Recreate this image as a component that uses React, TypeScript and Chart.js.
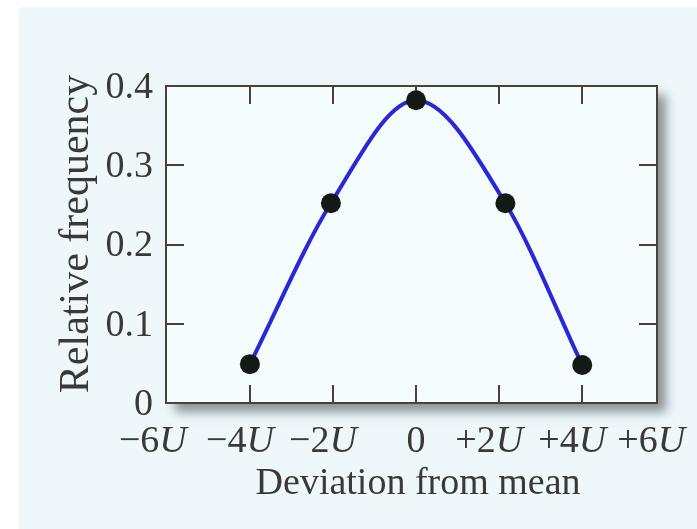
import { useEffect, useRef } from 'react';
import { Chart, registerables } from 'chart.js';

Chart.register(...registerables);

// Measured relative frequencies at each deviation from the mean (in units of U)
const deviations = [-4, -2.05, 0, 2.15, 4];
const frequencies = [0.049, 0.252, 0.382, 0.252, 0.048];

// Axis ticks
const xTickValues = [-6, -4, -2, 0, 2, 4, 6];
const xTickPrefixes = ['\u22126', '\u22124', '\u22122', '0', '+2', '+4', '+6'];
const xTickUnit = 'U';
const yTickValues = [0, 0.1, 0.2, 0.3, 0.4];
const yTickLabels = ['0', '0.1', '0.2', '0.3', '0.4'];
const xInnerTicks = [-4, -2, 0, 2, 4];
const yInnerTicks = [0.1, 0.2, 0.3];

const xTitle = 'Deviation from mean';
const yTitle = 'Relative frequency';

const SERIF = '"Liberation Serif", "Times New Roman", Times, serif';
const TEXT_COLOR = '#3b3835';
const FRAME_COLOR = '#4f4034';

const framePlugin = {
  id: 'frameAndLabels',
  beforeDraw(chart: any) {
    const { ctx, chartArea: a, width, height } = chart;
    ctx.save();
    ctx.fillStyle = '#ffffff';
    ctx.fillRect(0, 0, width, height);
    ctx.fillStyle = '#eef8fb';
    ctx.fillRect(19, 7, width - 19, height - 7);
    // plot panel with a soft drop shadow
    ctx.shadowColor = 'rgba(70,78,82,0.6)';
    ctx.shadowBlur = 10;
    ctx.shadowOffsetX = 9;
    ctx.shadowOffsetY = 9;
    ctx.fillStyle = '#f4fcfe';
    ctx.fillRect(a.left, a.top, a.right - a.left, a.bottom - a.top);
    ctx.restore();
  },
  beforeDatasetsDraw(chart: any) {
    const { ctx, chartArea: a, scales } = chart;
    const xs = scales.x;
    const ys = scales.y;
    const tickLen = 18;
    ctx.save();
    ctx.strokeStyle = FRAME_COLOR;
    ctx.lineWidth = 2;
    ctx.strokeRect(a.left, a.top, a.right - a.left, a.bottom - a.top);
    ctx.beginPath();
    xInnerTicks.forEach((v) => {
      const px = Math.round(xs.getPixelForValue(v));
      ctx.moveTo(px, a.bottom);
      ctx.lineTo(px, a.bottom - tickLen);
      ctx.moveTo(px, a.top);
      ctx.lineTo(px, a.top + tickLen);
    });
    yInnerTicks.forEach((v) => {
      const py = Math.round(ys.getPixelForValue(v));
      ctx.moveTo(a.left, py);
      ctx.lineTo(a.left + tickLen, py);
      ctx.moveTo(a.right, py);
      ctx.lineTo(a.right - tickLen, py);
    });
    ctx.stroke();
    ctx.restore();
  },
  afterDraw(chart: any) {
    const { ctx, chartArea: a, scales } = chart;
    const xs = scales.x;
    const ys = scales.y;
    const regular = `38px ${SERIF}`;
    const italic = `italic 38px ${SERIF}`;
    ctx.save();
    ctx.fillStyle = TEXT_COLOR;

    // y tick labels
    ctx.font = regular;
    ctx.textAlign = 'right';
    ctx.textBaseline = 'middle';
    yTickValues.forEach((v, i) => {
      ctx.fillText(yTickLabels[i], a.left - 13, ys.getPixelForValue(v) + 2);
    });

    // x tick labels: number upright, unit in italics
    ctx.textAlign = 'left';
    ctx.textBaseline = 'alphabetic';
    xTickValues.forEach((v, i) => {
      const prefix = xTickPrefixes[i];
      const unit = v === 0 ? '' : xTickUnit;
      ctx.font = regular;
      const w1 = ctx.measureText(prefix).width;
      ctx.font = italic;
      const w2 = unit ? ctx.measureText(unit).width : 0;
      const shift = v === 0 ? 0 : Math.abs(v) === 6 ? 14 : 10;
      const center = xs.getPixelForValue(v) - shift;
      const start = center - (w1 + w2) / 2;
      ctx.font = regular;
      ctx.fillText(prefix, start, 452);
      if (unit) {
        ctx.font = italic;
        ctx.fillText(unit, start + w1, 452);
      }
    });

    // axis titles
    ctx.font = regular;
    ctx.textAlign = 'center';
    ctx.fillText(xTitle, xs.getPixelForValue(0) + 2, 494);
    ctx.font = `42px ${SERIF}`;
    ctx.translate(88, 234);
    ctx.rotate(-Math.PI / 2);
    ctx.fillText(yTitle, 0, 0);
    ctx.restore();
  },
};

export default function App() {
  const canvasRef = useRef<HTMLCanvasElement | null>(null);

  useEffect(() => {
    const canvas = canvasRef.current;
    if (!canvas) return;
    const chart = new Chart(canvas, {
      type: 'line',
      data: {
        datasets: [
          {
            data: deviations.map((x, i) => ({ x, y: frequencies[i] })),
            borderColor: '#2828d8',
            borderWidth: 4,
            cubicInterpolationMode: 'monotone',
            pointRadius: 10,
            pointBackgroundColor: '#151916',
            pointBorderWidth: 0,
            clip: false,
          } as any,
        ],
      },
      options: {
        animation: false,
        responsive: false,
        devicePixelRatio: 1,
        events: [],
        layout: { padding: { left: 166, top: 86, right: 40, bottom: 126 } },
        scales: {
          x: { type: 'linear', min: -6.02, max: 5.8, display: false },
          y: { type: 'linear', min: 0, max: 0.4, display: false },
        },
        plugins: {
          legend: { display: false },
          tooltip: { enabled: false },
        },
      },
      plugins: [framePlugin],
    });
    return () => chart.destroy();
  }, []);

  return (
    <div style={{ position: 'absolute', left: 0, top: 0, width: 697, height: 529 }}>
      <canvas ref={canvasRef} width={697} height={529} style={{ display: 'block' }} />
    </div>
  );
}
